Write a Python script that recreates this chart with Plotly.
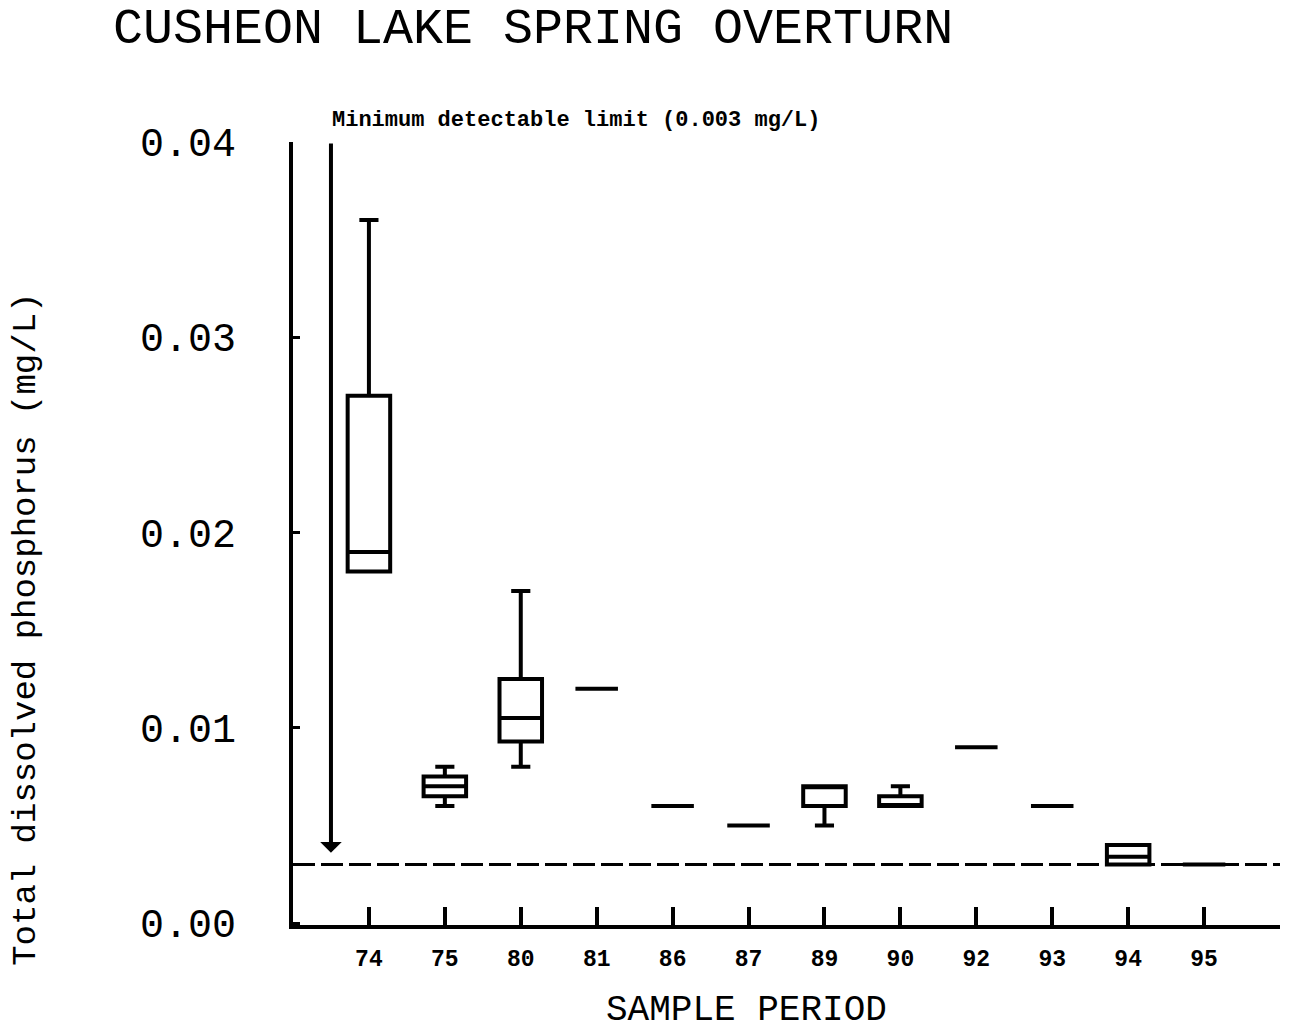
import plotly.graph_objects as go

# Sample periods (years) and five-number summaries of total dissolved phosphorus (mg/L)
periods = ["74", "75", "80", "81", "86", "87", "89", "90", "92", "93", "94", "95"]
tdp_max = [0.036, 0.008, 0.017, 0.012, 0.006, 0.005, 0.007, 0.007, 0.009, 0.006, 0.004, 0.003]
tdp_q3 = [0.027, 0.0075, 0.0125, 0.012, 0.006, 0.005, 0.007, 0.0065, 0.009, 0.006, 0.004, 0.003]
tdp_median = [0.019, 0.007, 0.0105, 0.012, 0.006, 0.005, 0.007, 0.006, 0.009, 0.006, 0.0034, 0.003]
tdp_q1 = [0.018, 0.0065, 0.0093, 0.012, 0.006, 0.005, 0.006, 0.006, 0.009, 0.006, 0.003, 0.003]
tdp_min = [0.018, 0.006, 0.008, 0.012, 0.006, 0.005, 0.005, 0.006, 0.009, 0.006, 0.003, 0.003]

detect_limit = 0.003
y_ticks = [0.0, 0.01, 0.02, 0.03, 0.04]
y_tick_text = ["0.00", "0.01", "0.02", "0.03", "0.04"]

FONT = "Liberation Mono, Courier New, monospace"
positions = list(range(len(periods)))

fig = go.Figure()

fig.add_trace(go.Box(
    x=positions,
    q1=tdp_q1,
    median=tdp_median,
    q3=tdp_q3,
    lowerfence=tdp_min,
    upperfence=tdp_max,
    width=0.56,
    whiskerwidth=0.45,
    line=dict(color="black", width=4),
    fillcolor="white",
    hoverinfo="skip",
))

# Dashed reference line at the detection limit
fig.add_shape(
    type="line", xref="x", yref="y",
    x0=-1, x1=12, y0=detect_limit, y1=detect_limit,
    line=dict(color="black", width=3, dash="22px,6px"),
    layer="below",
)

# Arrow pointing down to the detection limit
fig.add_annotation(
    x=-0.5, y=0.0036, xref="x", yref="y",
    ax=-0.5, ay=0.04, axref="x", ayref="y",
    text="", showarrow=True,
    arrowhead=1, arrowsize=0.9, arrowwidth=4, arrowcolor="black",
)
fig.add_annotation(
    x=-0.51, y=0.04, xref="x", yref="y",
    xanchor="left", yanchor="middle", yshift=22,
    text="Minimum detectable limit (0.003 mg/L)", showarrow=False,
    font=dict(family=FONT, size=22, color="black", weight="bold"),
)

# Axis titles
fig.add_annotation(
    x=-0.2705, y=0.377, xref="paper", yref="paper",
    text="Total dissolved phosphorus (mg/L)", textangle=-90,
    showarrow=False, xanchor="center", yanchor="middle",
    font=dict(family=FONT, size=34, color="black"),
)
fig.add_annotation(
    x=0.459, y=-0.1086, xref="paper", yref="paper",
    text="SAMPLE PERIOD", showarrow=False,
    xanchor="center", yanchor="middle",
    font=dict(family=FONT, size=36, color="black"),
)

fig.update_layout(
    width=1289, height=1036,
    margin=dict(l=293, r=9, t=142, b=111),
    plot_bgcolor="white", paper_bgcolor="white",
    showlegend=False,
    title=dict(
        text="CUSHEON LAKE SPRING OVERTURN",
        x=113 / 1289, xref="container", xanchor="left",
        y=1 - 25 / 1036, yref="container", yanchor="middle",
        font=dict(family=FONT, size=50, color="black"),
    ),
)

fig.update_xaxes(
    range=[-1, 12],
    tickmode="array", tickvals=positions, ticktext=periods,
    ticks="inside", ticklen=18, tickwidth=4, tickcolor="black",
    showline=True, linewidth=4, linecolor="black",
    showgrid=False, zeroline=False,
    ticklabelstandoff=9,
    tickfont=dict(family=FONT, size=23, color="black", weight="bold"),
)
fig.update_yaxes(
    range=[-0.0001, 0.04],
    tickmode="array", tickvals=y_ticks, ticktext=y_tick_text,
    ticks="inside", ticklen=7, tickwidth=3, tickcolor="black",
    showline=True, linewidth=4, linecolor="black",
    showgrid=False, zeroline=False,
    ticklabelstandoff=45,
    tickfont=dict(family=FONT, size=40, color="black"),
)

fig.write_html("out.html")
